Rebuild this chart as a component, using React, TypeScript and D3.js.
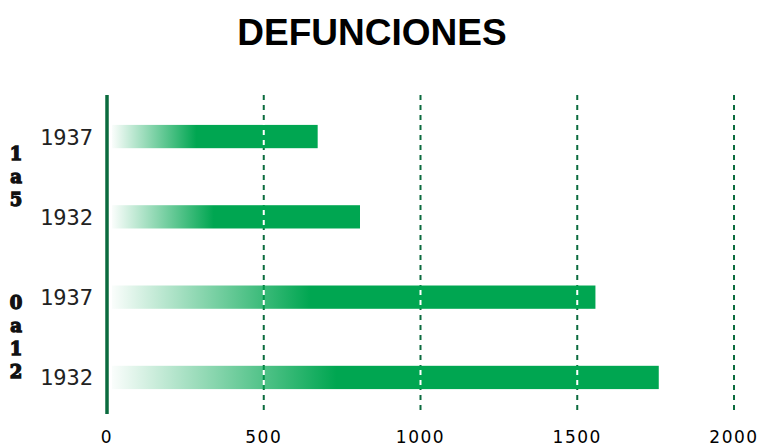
import * as React from "react";
import * as d3 from "d3";

const rows = ["a1937", "a1932", "b1937", "b1932"];
const years = ["1937", "1932", "1937", "1932"];
const deaths = [672, 807, 1558, 1760];
const groups = [
  { label: ["1", "a", "5"], rows: ["a1937", "a1932"] },
  { label: ["0", "a", "1", "2"], rows: ["b1937", "b1932"] },
];
const ticks = [0, 500, 1000, 1500, 2000];

const W = 766;
const H = 448;

export default function App() {
  const x = d3.scaleLinear().domain([0, 2000]).range([107, 734]);
  const y = d3.scaleBand().domain(rows).range([96, 418]).paddingInner(0.71).paddingOuter(0.36);
  const gridTop = 95;
  const gridBottom = 414;
  const green = "#00a651";
  const dark = "#0b6b3e";

  return (
    <div style={{ position: "absolute", left: 0, top: 0 }}>
      <svg width={W} height={H} style={{ display: "block" }}>
        <defs>
          <linearGradient id="fade" x1="0" x2="1" y1="0" y2="0">
            <stop offset="0" stopColor={green} stopOpacity={0.02} />
            <stop offset="0.41" stopColor={green} stopOpacity={1} />
            <stop offset="1" stopColor={green} stopOpacity={1} />
          </linearGradient>
        </defs>
        <text
          x={372}
          y={45}
          textAnchor="middle"
          fontFamily="Liberation Sans, Arial, sans-serif"
          fontWeight="bold"
          fontSize={37}
          fill="#000"
        >
          DEFUNCIONES
        </text>

        {ticks.slice(1).map((t) => (
          <line
            key={"g" + t}
            x1={x(t)}
            x2={x(t)}
            y1={gridTop}
            y2={gridBottom}
            stroke={dark}
            strokeWidth={2}
            strokeDasharray="5,5"
          />
        ))}

        {rows.map((r, i) => (
          <rect
            key={r}
            x={112}
            y={y(r)}
            width={x(deaths[i]) - 112}
            height={y.bandwidth()}
            fill="url(#fade)"
          />
        ))}

        {ticks.slice(1).map((t) => (
          <line
            key={"w" + t}
            x1={x(t)}
            x2={x(t)}
            y1={gridTop}
            y2={gridBottom}
            stroke="#fff"
            strokeWidth={2}
            strokeDasharray="5,5"
            strokeDashoffset={5}
          />
        ))}

        <line x1={107} x2={107} y1={gridTop} y2={gridBottom} stroke={dark} strokeWidth={3.5} />

        {rows.map((r, i) => (
          <text
            key={"y" + r}
            x={93}
            y={(y(r) ?? 0) + y.bandwidth() / 2 + 8}
            textAnchor="end"
            fontFamily="DejaVu Sans Mono, monospace"
            fontSize={22}
            fill="#222"
          >
            {years[i]}
          </text>
        ))}

        {groups.map((g) => {
          const top = y(g.rows[0]) ?? 0;
          const bottom = (y(g.rows[1]) ?? 0) + y.bandwidth();
          const mid = (top + bottom) / 2;
          const step = 23;
          const start = mid - ((g.label.length - 1) * step) / 2 + 6;
          return g.label.map((c, j) => (
            <text
              key={g.label.join("") + j}
              x={16}
              y={start + j * step}
              textAnchor="middle"
              fontFamily="DejaVu Serif, serif"
              fontWeight="bold"
              fontSize={18}
              fill="#111"
              stroke="#111"
              strokeWidth={1.3}
            >
              {c}
            </text>
          ));
        })}

        {ticks.map((t) => (
          <text
            key={"t" + t}
            x={x(t)}
            y={443}
            textAnchor="middle"
            fontFamily="DejaVu Sans, sans-serif"
            fontSize={17}
            letterSpacing={1.5}
            fill="#000"
          >
            {t}
          </text>
        ))}
      </svg>
    </div>
  );
}
